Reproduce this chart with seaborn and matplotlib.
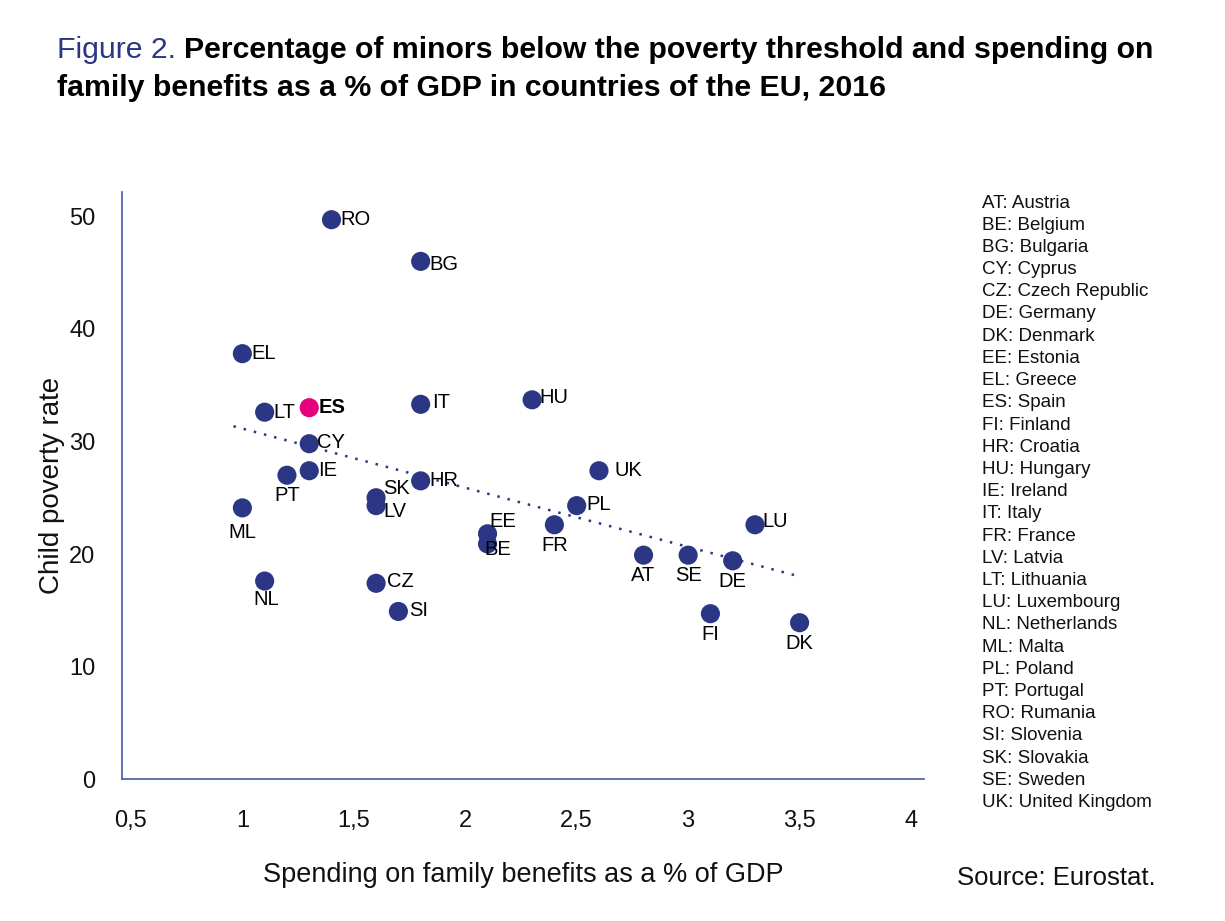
import matplotlib
matplotlib.use("Agg")
import matplotlib.pyplot as plt
import numpy as np
import pandas as pd
import seaborn as sns

codes = ["RO", "BG", "EL", "ES", "LT", "IT", "HU", "CY", "IE", "PT", "HR", "SK", "LV", "ML",
         "UK", "PL", "EE", "BE", "FR", "LU", "AT", "SE", "DE", "FI", "DK", "NL", "CZ", "SI"]
spending = [1.4, 1.8, 1.0, 1.3, 1.1, 1.8, 2.3, 1.3, 1.3, 1.2, 1.8, 1.6, 1.6, 1.0,
            2.6, 2.5, 2.1, 2.1, 2.4, 3.3, 2.8, 3.0, 3.2, 3.1, 3.5, 1.1, 1.6, 1.7]
poverty = [49.7, 46.0, 37.8, 33.0, 32.6, 33.3, 33.7, 29.8, 27.4, 27.0, 26.5, 25.0, 24.3, 24.1,
           27.4, 24.3, 21.8, 20.9, 22.6, 22.6, 19.9, 19.9, 19.4, 14.7, 13.9, 17.6, 17.4, 14.9]
legend_lines = ["AT: Austria", "BE: Belgium", "BG: Bulgaria", "CY: Cyprus", "CZ: Czech Republic",
                "DE: Germany", "DK: Denmark", "EE: Estonia", "EL: Greece", "ES: Spain",
                "FI: Finland", "HR: Croatia", "HU: Hungary", "IE: Ireland", "IT: Italy",
                "FR: France", "LV: Latvia", "LT: Lithuania", "LU: Luxembourg", "NL: Netherlands",
                "ML: Malta", "PL: Poland", "PT: Portugal", "RO: Rumania", "SI: Slovenia",
                "SK: Slovakia", "SE: Sweden", "UK: United Kingdom"]
x_ticks = [0.5, 1, 1.5, 2, 2.5, 3, 3.5, 4]
x_tick_labels = ["0,5", "1", "1,5", "2", "2,5", "3", "3,5", "4"]
y_ticks = [0, 10, 20, 30, 40, 50]

# label placement: (dx, dy) in points, ha, va
label_pos = {c: (6.5, 0, "left", "center") for c in codes}
for c in ["PT", "ML", "FR", "AT", "SE", "DE", "NL", "FI", "DK"]:
    label_pos[c] = (0, -8, "center", "top")
label_pos["ML"] = (0, -11, "center", "top")
label_pos["NL"] = (1, -6.5, "center", "top")
label_pos["PT"] = (0, -7.5, "center", "top")
label_pos["SK"] = (5, 7, "left", "center")
label_pos["LV"] = (5, -4, "left", "center")
label_pos["EE"] = (1, 8.5, "left", "center")
label_pos["BE"] = (-2, -4, "left", "center")
label_pos["BG"] = (6.5, -2, "left", "center")
label_pos["HU"] = (5.5, 2, "left", "center")
label_pos["UK"] = (11, 0, "left", "center")
label_pos["PL"] = (7, 1, "left", "center")
label_pos["CZ"] = (8, 1, "left", "center")
label_pos["SI"] = (8, 1, "left", "center")
label_pos["IT"] = (8, 1, "left", "center")
label_pos["LU"] = (5.5, 2, "left", "center")
label_pos["CY"] = (5.5, 1, "left", "center")
label_pos["HR"] = (6.5, 0, "left", "center")

navy = "#2b3784"
magenta = "#e6007e"

df = pd.DataFrame({"code": codes, "spending": spending, "poverty": poverty})
df["group"] = np.where(df["code"] == "ES", "ES", "other")

sns.set_theme(style="white")
plt.rcParams["font.family"] = ["Liberation Sans", "DejaVu Sans"]

fig = plt.figure(figsize=(12.25, 9.21), dpi=100)
ax = fig.add_axes([0.0996, 0.154, 0.655, 0.638])

sns.scatterplot(data=df, x="spending", y="poverty", hue="group",
                palette={"ES": magenta, "other": navy}, s=190, linewidth=0,
                legend=False, ax=ax, zorder=3)

coef = np.polyfit(df["spending"], df["poverty"], 1)
xs = np.array([df["spending"].min() - 0.04, df["spending"].max()])
ax.plot(xs, np.polyval(coef, xs), linestyle=(0, (1, 3.2)), color=navy, lw=1.8, zorder=2)

for c, xv, yv in zip(codes, spending, poverty):
    dx, dy, ha, va = label_pos[c]
    ax.annotate(c, (xv, yv), xytext=(dx, dy), textcoords="offset points",
                ha=ha, va=va, fontsize=14.5,
                fontweight="bold" if c == "ES" else "normal", color="black", zorder=4)

ax.set_xlim(0.46, 4.06)
ax.set_ylim(0, 52.2)
ax.set_xticks(x_ticks)
ax.set_xticklabels(x_tick_labels)
ax.set_yticks(y_ticks)
ax.tick_params(axis="both", length=0, labelsize=17, colors="#111111")
ax.tick_params(axis="x", pad=22)
ax.tick_params(axis="y", pad=19)
for side in ["top", "right"]:
    ax.spines[side].set_visible(False)
for side in ["left", "bottom"]:
    ax.spines[side].set_color("#4a59a4")
    ax.spines[side].set_linewidth(1.2)
ax.set_xlabel("Spending on family benefits as a % of GDP", fontsize=19.5, labelpad=22, color="#111111")
ax.set_ylabel("Child poverty rate", fontsize=20, labelpad=3, color="#111111")

# title, sized so the first line spans the same width as the reference
title_a = "Figure 2. "
title_b = "Percentage of minors below the poverty threshold and spending on"
title_c = "family benefits as a % of GDP in countries of the EU, 2016"
fs = 20
t1 = fig.text(0.0465, 0.946, title_a, fontsize=fs, color=navy, va="center")
t2 = fig.text(0.1, 0.946, title_b, fontsize=fs, fontweight="bold", va="center", color="black")
fig.canvas.draw()
r = fig.canvas.get_renderer()
total = t1.get_window_extent(r).width + t2.get_window_extent(r).width
fs = fs * 1100 / total
t1.set_fontsize(fs)
t2.set_fontsize(fs)
fig.canvas.draw()
t2.set_x(t1.get_window_extent(r).x1 / fig.bbox.width)
fig.text(0.0465, 0.904, title_c, fontsize=fs, fontweight="bold", va="center", color="black")

# country key
for i, line in enumerate(legend_lines):
    fig.text(0.802, 1 - (203 + i * 22.2) / 921, line, fontsize=13.5, va="center", color="#111111")

fig.text(0.781, 1 - 878 / 921, "Source: Eurostat.", fontsize=18.5, va="center", color="#111111")

fig.savefig("out.png", dpi=100)
